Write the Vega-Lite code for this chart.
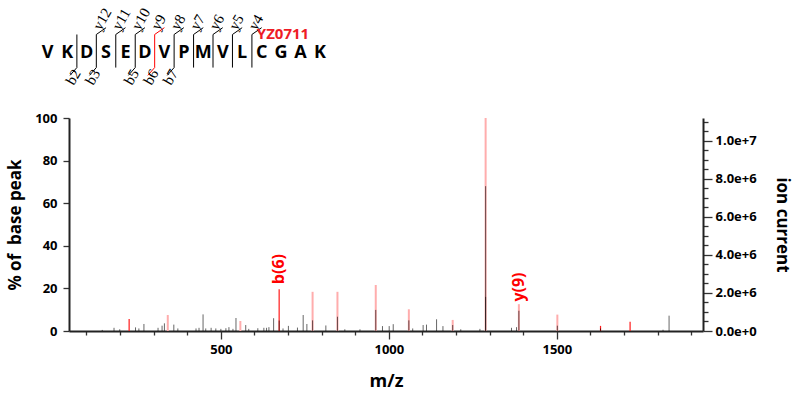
{
  "$schema": "https://vega.github.io/schema/vega-lite/v6.json",
  "width": 634,
  "height": 213,
  "autosize": {"type": "none"},
  "padding": {"left": 69, "top": 118, "right": 94, "bottom": 68},
  "background": "white",
  "config": {"view": {"stroke": null}, "font": "Open Sans"},
  "datasets": {
    "peaks": [
      {"mz": 342, "pct": 7.5, "kind": "match"},
      {"mz": 558, "pct": 4.7, "kind": "match"},
      {"mz": 773, "pct": 18.4, "kind": "match"},
      {"mz": 847, "pct": 18.4, "kind": "match"},
      {"mz": 961, "pct": 21.6, "kind": "match"},
      {"mz": 1059.5, "pct": 10.2, "kind": "match"},
      {"mz": 1190, "pct": 5.2, "kind": "match"},
      {"mz": 1288, "pct": 100, "kind": "match"},
      {"mz": 1387, "pct": 12.6, "kind": "match"},
      {"mz": 1501.5, "pct": 7.7, "kind": "match"},
      {"mz": 227, "pct": 5.6, "kind": "label"},
      {"mz": 673.5, "pct": 19.6, "kind": "label"},
      {"mz": 1630, "pct": 2.4, "kind": "label"},
      {"mz": 1718, "pct": 4.4, "kind": "label"},
      {"mz": 147, "pct": 0.5, "kind": "obs"},
      {"mz": 182, "pct": 1.5, "kind": "obs"},
      {"mz": 199, "pct": 0.8, "kind": "obs"},
      {"mz": 246, "pct": 1.7, "kind": "obs"},
      {"mz": 256, "pct": 1.2, "kind": "obs"},
      {"mz": 271, "pct": 3.3, "kind": "obs"},
      {"mz": 313, "pct": 1.5, "kind": "obs"},
      {"mz": 325, "pct": 2.5, "kind": "obs"},
      {"mz": 332, "pct": 3.6, "kind": "obs"},
      {"mz": 360, "pct": 3.0, "kind": "obs"},
      {"mz": 372, "pct": 1.2, "kind": "obs"},
      {"mz": 426, "pct": 1.2, "kind": "obs"},
      {"mz": 435, "pct": 1.5, "kind": "obs"},
      {"mz": 447, "pct": 7.8, "kind": "obs"},
      {"mz": 455, "pct": 1.2, "kind": "obs"},
      {"mz": 471, "pct": 1.5, "kind": "obs"},
      {"mz": 485, "pct": 1.2, "kind": "obs"},
      {"mz": 500, "pct": 1.0, "kind": "obs"},
      {"mz": 515, "pct": 1.3, "kind": "obs"},
      {"mz": 524, "pct": 1.8, "kind": "obs"},
      {"mz": 536, "pct": 1.0, "kind": "obs"},
      {"mz": 545, "pct": 6.1, "kind": "obs"},
      {"mz": 574, "pct": 2.8, "kind": "obs"},
      {"mz": 583, "pct": 1.0, "kind": "obs"},
      {"mz": 610, "pct": 1.3, "kind": "obs"},
      {"mz": 628, "pct": 1.5, "kind": "obs"},
      {"mz": 636, "pct": 1.5, "kind": "obs"},
      {"mz": 643, "pct": 1.8, "kind": "obs"},
      {"mz": 657, "pct": 6.0, "kind": "obs"},
      {"mz": 673.5, "pct": 4.9, "kind": "obs"},
      {"mz": 685, "pct": 1.2, "kind": "obs"},
      {"mz": 701, "pct": 2.4, "kind": "obs"},
      {"mz": 728, "pct": 1.6, "kind": "obs"},
      {"mz": 745, "pct": 7.5, "kind": "obs"},
      {"mz": 756, "pct": 3.3, "kind": "obs"},
      {"mz": 773, "pct": 5.0, "kind": "obs"},
      {"mz": 812.5, "pct": 2.6, "kind": "obs"},
      {"mz": 847, "pct": 6.7, "kind": "obs"},
      {"mz": 869, "pct": 0.8, "kind": "obs"},
      {"mz": 914, "pct": 0.8, "kind": "obs"},
      {"mz": 961, "pct": 9.9, "kind": "obs"},
      {"mz": 981, "pct": 2.3, "kind": "obs"},
      {"mz": 1001, "pct": 2.3, "kind": "obs"},
      {"mz": 1013, "pct": 3.2, "kind": "obs"},
      {"mz": 1059.5, "pct": 5.0, "kind": "obs"},
      {"mz": 1071, "pct": 1.2, "kind": "obs"},
      {"mz": 1102, "pct": 2.8, "kind": "obs"},
      {"mz": 1112, "pct": 3.0, "kind": "obs"},
      {"mz": 1142, "pct": 5.5, "kind": "obs"},
      {"mz": 1161, "pct": 2.3, "kind": "obs"},
      {"mz": 1190, "pct": 2.8, "kind": "obs"},
      {"mz": 1214, "pct": 0.8, "kind": "obs"},
      {"mz": 1271, "pct": 1.0, "kind": "obs"},
      {"mz": 1288, "pct": 68, "kind": "obs"},
      {"mz": 1288, "pct": 16, "kind": "obs"},
      {"mz": 1365, "pct": 1.5, "kind": "obs"},
      {"mz": 1380, "pct": 1.8, "kind": "obs"},
      {"mz": 1387, "pct": 9.5, "kind": "obs"},
      {"mz": 1501.5, "pct": 2.5, "kind": "obs"},
      {"mz": 1630, "pct": 1.2, "kind": "obs"},
      {"mz": 1816, "pct": 0.6, "kind": "obs"},
      {"mz": 1834, "pct": 7.2, "kind": "obs"}
    ],
    "peakLabels": [
      {"mz": 673.5, "pct": 22.0, "label": "b(6)"},
      {"mz": 1387, "pct": 13.8, "label": "y(9)"}
    ],
    "current": [{"current": 0}, {"current": 11200000}],
    "residues": [
      {"i": 1, "aa": "V"}, {"i": 2, "aa": "K"}, {"i": 3, "aa": "D"}, {"i": 4, "aa": "S"},
      {"i": 5, "aa": "E"}, {"i": 6, "aa": "D"}, {"i": 7, "aa": "V"}, {"i": 8, "aa": "P"},
      {"i": 9, "aa": "M"}, {"i": 10, "aa": "V"}, {"i": 11, "aa": "L"}, {"i": 12, "aa": "C"},
      {"i": 13, "aa": "G"}, {"i": 14, "aa": "A"}, {"i": 15, "aa": "K"}
    ],
    "segs": [
      {"x": 2.5, "y": -0.75, "x2": 2.5, "y2": 0.95, "hit": "no"},
      {"x": 3.5, "y": -0.75, "x2": 3.5, "y2": 0.95, "hit": "no"},
      {"x": 4.5, "y": -0.75, "x2": 4.5, "y2": 0.95, "hit": "no"},
      {"x": 5.5, "y": -0.75, "x2": 5.5, "y2": 0.95, "hit": "no"},
      {"x": 6.5, "y": -0.75, "x2": 6.5, "y2": 0.95, "hit": "yes"},
      {"x": 7.5, "y": -0.75, "x2": 7.5, "y2": 0.95, "hit": "no"},
      {"x": 8.5, "y": -0.75, "x2": 8.5, "y2": 0.95, "hit": "no"},
      {"x": 9.5, "y": -0.75, "x2": 9.5, "y2": 0.95, "hit": "no"},
      {"x": 10.5, "y": -0.75, "x2": 10.5, "y2": 0.95, "hit": "no"},
      {"x": 11.5, "y": -0.75, "x2": 11.5, "y2": 0.95, "hit": "no"},
      {"x": 3.5, "y": 0.95, "x2": 4.0, "y2": 1.3, "hit": "no"},
      {"x": 4.5, "y": 0.95, "x2": 5.0, "y2": 1.3, "hit": "no"},
      {"x": 5.5, "y": 0.95, "x2": 6.0, "y2": 1.3, "hit": "no"},
      {"x": 6.5, "y": 0.95, "x2": 7.0, "y2": 1.3, "hit": "yes"},
      {"x": 7.5, "y": 0.95, "x2": 8.0, "y2": 1.3, "hit": "no"},
      {"x": 8.5, "y": 0.95, "x2": 9.0, "y2": 1.3, "hit": "no"},
      {"x": 9.5, "y": 0.95, "x2": 10.0, "y2": 1.3, "hit": "no"},
      {"x": 10.5, "y": 0.95, "x2": 11.0, "y2": 1.3, "hit": "no"},
      {"x": 11.5, "y": 0.95, "x2": 12.0, "y2": 1.3, "hit": "no"},
      {"x": 2.5, "y": -0.75, "x2": 2.15, "y2": -1.15, "hit": "no"},
      {"x": 3.5, "y": -0.75, "x2": 3.15, "y2": -1.15, "hit": "no"},
      {"x": 5.5, "y": -0.75, "x2": 5.15, "y2": -1.15, "hit": "no"},
      {"x": 6.5, "y": -0.75, "x2": 6.15, "y2": -1.15, "hit": "yes"},
      {"x": 7.5, "y": -0.75, "x2": 7.15, "y2": -1.15, "hit": "no"}
    ],
    "ions": [
      {"p": 3.5, "ion": "y12", "series": "y"},
      {"p": 4.5, "ion": "y11", "series": "y"},
      {"p": 5.5, "ion": "y10", "series": "y"},
      {"p": 6.5, "ion": "y9", "series": "y"},
      {"p": 7.5, "ion": "y8", "series": "y"},
      {"p": 8.5, "ion": "y7", "series": "y"},
      {"p": 9.5, "ion": "y6", "series": "y"},
      {"p": 10.5, "ion": "y5", "series": "y"},
      {"p": 11.5, "ion": "y4", "series": "y"},
      {"p": 2.5, "ion": "b2", "series": "b"},
      {"p": 3.5, "ion": "b3", "series": "b"},
      {"p": 5.5, "ion": "b5", "series": "b"},
      {"p": 6.5, "ion": "b6", "series": "b"},
      {"p": 7.5, "ion": "b7", "series": "b"}
    ],
    "tag": [{"p": 11.75, "lvl": 0.97, "name": "YZ0711"}]
  },
  "layer": [
    {
      "layer": [
        {
          "data": {"name": "peaks"},
          "transform": [{"filter": "datum.kind === 'match'"}],
          "mark": {"type": "rule", "color": "#ffadad", "strokeWidth": 2},
          "encoding": {
            "x": {"field": "mz", "type": "quantitative", "scale": {"domain": [48, 1935], "nice": false, "zero": false},
              "axis": {
                "orient": "bottom",
                "values": [100, 200, 300, 400, 600, 700, 800, 900, 1100, 1200, 1300, 1400, 1600, 1700, 1800, 1900],
                "labels": false,
                "tickSize": 4,
                "tickColor": "#333", "tickWidth": 1.3,
                "domainColor": "#222", "domainWidth": 2,
                "title": null,
                "grid": false
              }},
            "y": {"field": "pct", "type": "quantitative", "scale": {"domain": [0, 100], "nice": false},
              "axis": {
                "orient": "left",
                "values": [0, 5, 10, 15, 20, 25, 30, 35, 40, 45, 50, 55, 60, 65, 70, 75, 80, 85, 90, 95, 100],
                "labelExpr": "datum.value % 20 === 0 ? datum.label : ''",
                "tickSize": 6,
                "tickColor": "#333", "tickWidth": 1.3,
                "domainColor": "#222", "domainWidth": 2,
                "labelFontSize": 13, "labelFontWeight": "bold", "labelColor": "#000", "labelPadding": 6,
                "title": "% of\u00a0\u00a0base peak", "titleFontSize": 17, "titleFontWeight": "bold", "titleColor": "#000", "titlePadding": 10,
                "grid": false
              }},
            "y2": {"datum": 0}
          }
        },
        {
          "data": {"name": "peaks"},
          "transform": [{"filter": "datum.kind === 'label'"}],
          "mark": {"type": "rule", "color": "#ff1a1a", "strokeWidth": 1.2},
          "encoding": {
            "x": {"field": "mz", "type": "quantitative"},
            "y": {"field": "pct", "type": "quantitative"},
            "y2": {"datum": 0}
          }
        },
        {
          "data": {"name": "peaks"},
          "transform": [{"filter": "datum.kind === 'obs'"}],
          "mark": {"type": "rule", "color": "#000000", "opacity": 0.6, "strokeWidth": 1},
          "encoding": {
            "x": {"field": "mz", "type": "quantitative"},
            "y": {"field": "pct", "type": "quantitative"},
            "y2": {"datum": 0}
          }
        },
        {
          "data": {"name": "peakLabels"},
          "mark": {"type": "text", "angle": 270, "align": "left", "baseline": "middle", "color": "#ff0000", "fontWeight": "bold", "fontSize": 16, "font": "Open Sans"},
          "encoding": {
            "x": {"field": "mz", "type": "quantitative"},
            "y": {"field": "pct", "type": "quantitative"},
            "text": {"field": "label"}
          }
        }
      ]
    },
    {
      "data": {"name": "peaks"},
      "mark": {"type": "point", "opacity": 0},
      "encoding": {
        "x": {"field": "mz", "type": "quantitative", "scale": {"domain": [48, 1935], "nice": false, "zero": false},
          "axis": {
            "orient": "bottom",
            "values": [500, 1000, 1500],
            "format": "d",
            "labelOverlap": false,
            "labelFlush": false,
            "tickSize": 8,
            "tickColor": "#333", "tickWidth": 1.3,
            "domain": false,
            "labelFontSize": 13, "labelFontWeight": "bold", "labelColor": "#000", "labelPadding": 4,
            "title": "m/z", "titleFontSize": 18, "titleFontWeight": "bold", "titleColor": "#000", "titlePadding": 16,
            "grid": false
          }}
      }
    },
    {
      "data": {"name": "current"},
      "mark": {"type": "rule", "opacity": 0},
      "encoding": {
        "y": {"field": "current", "type": "quantitative", "scale": {"domain": [0, 11200000], "nice": false},
          "axis": {
            "orient": "right",
            "values": [0, 500000, 1000000, 1500000, 2000000, 2500000, 3000000, 3500000, 4000000, 4500000, 5000000, 5500000, 6000000, 6500000, 7000000, 7500000, 8000000, 8500000, 9000000, 9500000, 10000000, 10500000, 11000000],
            "labelExpr": "datum.value % 2000000 === 0 ? format(datum.value, '.1e') : ''",
            "tickSize": {"condition": {"test": "datum.value % 2000000 === 0", "value": 9}, "value": 5},
            "tickColor": "#333", "tickWidth": 1.3,
            "domainColor": "#222", "domainWidth": 2,
            "labelFontSize": 13, "labelFontWeight": "bold", "labelColor": "#000", "labelPadding": 3,
            "title": "ion current", "titleFontSize": 17, "titleFontWeight": "bold", "titleColor": "#000", "titlePadding": 16,
            "grid": false
          }}
      }
    },
    {
      "layer": [
        {
          "data": {"name": "segs"},
          "mark": {"type": "rule", "strokeWidth": 1},
          "encoding": {
            "x": {"field": "x", "type": "quantitative", "scale": {"domain": [2.095, 34.695], "nice": false, "zero": false}, "axis": null},
            "y": {"field": "y", "type": "quantitative", "scale": {"domain": [-14.29, -3.342], "nice": false, "zero": false}, "axis": null},
            "x2": {"field": "x2"},
            "y2": {"field": "y2"},
            "color": {"field": "hit", "type": "nominal", "scale": {"domain": ["no", "yes"], "range": ["#000000", "#ff0000"]}, "legend": null}
          }
        },
        {
          "data": {"name": "residues"},
          "mark": {"type": "text", "align": "center", "baseline": "middle", "fontSize": 18, "fontWeight": "bold", "font": "Open Sans", "color": "#000"},
          "encoding": {
            "x": {"field": "i", "type": "quantitative"},
            "y": {"datum": 0, "type": "quantitative"},
            "text": {"field": "aa"}
          }
        },
        {
          "data": {"name": "ions"},
          "transform": [{"filter": "datum.series === 'y'"}],
          "mark": {"type": "text", "align": "left", "baseline": "middle", "angle": 300, "fontSize": 15, "font": "Liberation Serif", "color": "#000"},
          "encoding": {
            "x": {"field": "p", "type": "quantitative"},
            "y": {"datum": 1.25, "type": "quantitative"},
            "text": {"field": "ion"}
          }
        },
        {
          "data": {"name": "ions"},
          "transform": [{"filter": "datum.series === 'b'"}],
          "mark": {"type": "text", "align": "right", "baseline": "middle", "angle": 300, "fontSize": 15, "font": "Liberation Serif", "color": "#000"},
          "encoding": {
            "x": {"field": "p", "type": "quantitative"},
            "y": {"datum": -0.9, "type": "quantitative"},
            "text": {"field": "ion"}
          }
        },
        {
          "data": {"name": "tag"},
          "mark": {"type": "text", "align": "left", "baseline": "middle", "fontSize": 15, "fontWeight": "bold", "font": "Open Sans", "color": "#ee1c25"},
          "encoding": {
            "x": {"field": "p", "type": "quantitative"},
            "y": {"field": "lvl", "type": "quantitative"},
            "text": {"field": "name"}
          }
        }
      ]
    }
  ],
  "resolve": {"scale": {"x": "independent", "y": "independent"}}
}
